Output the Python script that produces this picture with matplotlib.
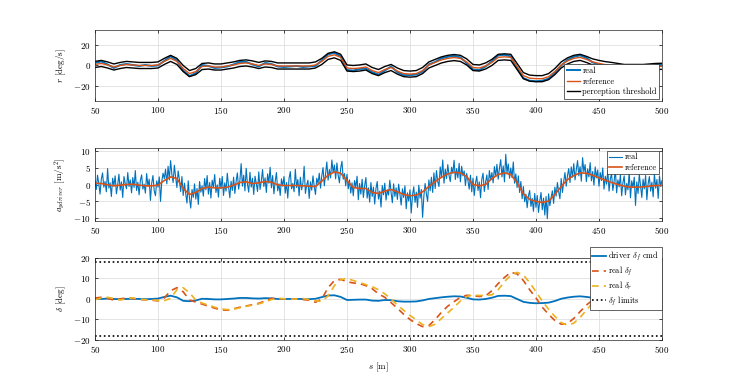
import numpy as np
import matplotlib
matplotlib.use("Agg")
import matplotlib.pyplot as plt

plt.rcParams['font.family'] = 'serif'
plt.rcParams['font.serif'] = ['cmr10']
plt.rcParams['mathtext.fontset'] = 'cm'
plt.rcParams['axes.formatter.use_mathtext'] = True
plt.rcParams['axes.unicode_minus'] = True

# ---- data ----
s5 = np.arange(50, 501, 5)   # coarse distance grid [m]
s1 = np.arange(50, 501, 1)   # fine distance grid [m]

r_ref = [1.0, 2.0, 0.5, -1.5, 0.0, 1.0, 0.5, 0.0, 0.0, 0.0,
         0.5, 4.0, 7.0, 4.0, -3.0, -8.0, -6.0, -1.0, -0.5, -1.5,
         -1.5, -0.5, 0.5, 2.0, 2.5, 1.5, 0.0, 1.5, 1.0, -0.5,
         -0.5, -0.5, -0.5, -0.5, -0.5, 0.5, 4.0, 9.0, 10.5, 8.0,
         -2.5, -3.0, -2.5, -1.5, -5.0, -7.0, -4.0, -2.0, -5.5, -8.0,
         -8.5, -8.0, -5.0, 0.5, 3.0, 5.5, 7.0, 7.8, 7.0, 3.5,
         -2.0, -2.5, -0.5, 3.0, 8.0, 8.5, 8.0, -1.0, -10.0, -12.5,
         -13.0, -13.0, -11.0, -6.0, 0.5, 4.5, 7.0, 8.0, 6.0, 3.5,
         2.0, 0.8, 0.0, -1.0, -2.0, -2.0, -2.0, -2.0, -1.5, -1.0,
         -0.8]
r_real = [2.5, 4.0, 1.0, -2.5, 0.5, 1.5, 0.5, -0.5, 0.5, -0.5,
          0.0, 4.5, 9.0, 5.0, -5.0, -10.5, -7.5, 0.5, -0.5, -2.5,
          -2.0, -1.0, 1.0, 3.5, 3.5, 1.0, -1.0, 2.5, 1.5, -1.0,
          -1.5, -1.0, -0.5, -1.5, -1.0, -0.5, 5.0, 11.0, 12.5, 9.0,
          -4.5, -5.0, -3.5, -3.0, -6.5, -9.0, -5.0, -1.0, -6.5, -9.5,
          -9.5, -9.0, -6.0, 1.0, 3.5, 7.0, 8.5, 9.5, 8.0, 2.5,
          -4.0, -4.5, -1.0, 4.0, 10.0, 10.5, 9.0, -2.5, -12.5, -15.0,
          -15.5, -15.0, -13.0, -7.0, 0.0, 5.5, 8.5, 10.0, 7.5, 3.0,
          1.0, 0.0, -1.0, -2.0, -3.0, -3.5, -3.0, -2.5, -2.5, 0.5,
          0.5]
r_thresh = 3.0

ay_ref = [0.4, 0.3, -0.1, -0.4, -0.2, 0.0, 0.1, -0.2, -0.4, -0.4,
          -0.2, 1.2, 2.3, 1.8, -1.2, -3.0, -2.4, -1.2, -0.8, -1.0,
          -1.0, -0.8, -0.2, 0.6, 0.8, 0.3, 0.5, 0.9, 0.7, -0.1,
          -0.3, -0.3, -0.3, -0.4, -0.5, -0.6, 1.0, 2.8, 3.8, 3.4,
          1.2, -0.9, -1.2, -1.2, -2.4, -2.7, -2.0, -1.5, -2.2, -3.0,
          -3.4, -3.2, -2.2, -0.6, 0.9, 2.2, 3.2, 3.7, 3.5, 2.4,
          0.0, -0.4, 0.0, 1.8, 3.0, 3.5, 3.0, 0.5, -2.8, -4.5,
          -5.1, -5.4, -5.0, -3.0, -0.6, 1.5, 2.7, 3.5, 3.4, 2.8,
          2.0, 1.3, 0.6, 0.0, -0.5, -0.8, -0.8, -0.7, -0.5, -0.3,
          -0.3]
ay_real = [1.2, -1.5, 2.8, 0.3, -2.9, 1.6, 3.5, -0.8, 0.9, -2.2,
           4.8, -1.1, 0.5, -3.6, 1.9, -0.4, 2.6, -2.8, -0.2, 3.1,
           -1.7, 0.8, -3.9, 2.4, 0.2, -1.3, 3.6, -0.6, 1.4, -2.5,
           2.1, -0.9, 4.2, -1.8, 0.7, -3.1, 1.2, 2.9, -1.4, 0.1,
           -2.6, 3.3, -0.5, 1.6, -4.8, 0.4, 2.7, -1.9, -3.4, 1.1,
           -0.8, 2.3, -5.1, 0.9, 3.4, 1.8, 4.6, 0.2, 5.5, 1.4,
           7.2, 3.1, 0.6, 5.8, 2.2, -0.9, 4.1, 1.5, -2.1, 2.4,
           -3.3, 0.4, -2.8, -5.6, 1.1, -4.2, -7.1, -1.5, -3.9, 0.2,
           -4.4, -1.2, -6.0, 0.9, -2.3, -0.4, -3.5, 1.8, -1.6, 2.7,
           -2.9, 0.6, -4.1, 1.3, -0.7, 3.0, -2.4, -0.1, -3.8, 1.9,
           -1.2, 2.4, -3.3, 0.5, -2.0, 3.4, -0.6, -4.0, 1.0, -1.8,
           2.2, -2.7, 0.9, 3.5, -1.4, 1.2, 6.3, -0.5, 2.8, -1.9,
           4.9, 0.1, -2.3, 3.7, -0.8, 1.9, -3.0, 2.5, 0.3, -2.1,
           3.8, -1.5, 1.1, 4.5, -0.6, 2.0, -2.4, 3.2, 0.4, 5.2,
           -1.0, 2.7, -2.8, 0.9, 3.6, -1.9, 0.2, -3.3, 1.7, -0.5,
           2.4, -2.6, 0.6, -4.1, 1.8, 3.9, -1.3, 0.3, -2.2, 4.6,
           -0.9, 1.5, -3.4, 2.2, -1.6, 0.4, 5.5, -2.7, -0.2, 1.3,
           -4.2, 0.8, -1.7, 2.6, -0.5, -3.0, 1.9, 0.3, 3.4, -1.1,
           2.6, 5.1, -0.4, 3.2, 6.8, 1.3, 4.5, 2.0, 7.4, 3.6,
           5.9, 1.7, 6.5, 2.8, 0.5, 4.9, 7.0, 1.6, 3.3, -0.4,
           3.1, -1.3, 1.4, -2.6, 0.5, -3.4, 1.2, -0.8, 2.5, -4.6,
           0.3, -2.9, 1.6, -3.9, -0.4, 2.1, -4.1, -1.0, -5.3, 0.6,
           -3.6, -0.8, -5.9, -1.2, 0.9, -4.4, -2.0, -6.8, -0.3, -3.1,
           0.4, -4.7, -1.6, -3.2, 1.3, -2.4, -5.5, 0.2, -3.6, -1.0,
           -4.5, 0.1, -2.8, -6.2, -1.3, -3.9, -0.4, -7.3, -2.5, -5.0,
           -1.6, -8.6, -3.2, -0.7, -5.4, -2.3, -6.9, -0.2, -4.1, -1.5,
           -9.9, -3.6, 0.3, -2.8, -5.1, 1.4, -1.9, 2.2, -2.4, 3.5,
           -1.2, 4.2, 1.0, -0.6, 5.3, 2.1, 7.4, 0.4, 4.6, 1.8,
           6.0, 2.7, 0.9, 5.2, 3.4, 7.3, 1.5, 4.8, 2.0, 6.4,
           0.8, 5.5, 2.6, 4.1, -0.3, 3.3, 1.2, -1.4, 2.8, -2.2,
           1.9, -3.3, 0.4, 2.5, -1.8, 0.8, -4.0, 1.6, 3.4, -2.1,
           0.7, 2.9, -1.5, 4.2, 1.3, 3.6, 0.5, 5.4, 2.4, 6.1,
           1.6, 4.9, 7.5, 2.3, 5.6, 0.8, 9.1, 3.5, 6.2, 1.9,
           5.0, 2.1, 6.8, 0.4, 3.2, -0.9, 2.6, -2.4, 0.9, -4.3,
           -0.6, -5.2, -2.9, -7.0, -3.4, -1.8, -6.6, -4.2, -8.1, -2.7,
           -6.9, -3.3, -8.4, -5.0, -2.4, -7.6, -4.1, -9.2, -3.6, -10.3,
           -2.8, -6.4, -4.0, -1.9, -5.7, -0.8, -3.5, 0.6, -2.2, -4.3,
           1.8, -2.4, 0.9, 3.6, -0.5, 2.7, 4.8, 0.6, 5.3, 2.2,
           6.3, 1.4, 4.5, 7.2, 2.6, 5.4, 1.0, 8.1, 3.8, 6.0,
           0.9, 4.7, 2.3, 6.6, 1.1, 3.9, -0.2, 5.3, 2.0, 4.4,
           -0.5, 3.6, 1.2, 5.0, -1.4, 2.5, 0.1, 4.2, -2.0, 1.7,
           3.3, -1.8, 0.9, 4.6, -2.5, 1.4, -0.7, 2.9, -3.4, 0.5,
           2.6, -3.1, 0.3, -1.6, 3.8, -4.0, 1.1, -0.9, 2.2, -6.3,
           0.8, -2.7, 3.1, -0.4, -3.9, 1.6, -1.3, 2.7, -4.6, 0.2,
           2.4, -2.0, 0.7, -3.7, 3.2, -1.1, 1.5, -4.2, 2.6, -0.6,
           1.2]

df_cmd = [0.2, 0.0, 0.2, 0.0, -0.1, 0.0, 0.1, 0.0, -0.1, 0.0,
          0.2, 1.0, 1.6, 0.8, -0.9, -1.1, -0.7, 0.1, 0.0, -0.2,
          -0.2, 0.0, 0.2, 0.5, 0.5, 0.3, 0.2, 0.4, 0.3, 0.0,
          0.0, 0.0, 0.0, 0.0, -0.1, 0.1, 0.9, 1.7, 1.8, 1.0,
          -0.5, -0.4, -0.3, -0.3, -0.8, -0.9, -0.5, -0.6, -1.1, -1.3,
          -1.3, -1.2, -0.7, 0.0, 0.4, 0.8, 1.1, 1.3, 1.2, 0.6,
          -0.2, -0.3, 0.0, 0.6, 1.5, 1.6, 1.4, 0.0, -1.4, -1.9,
          -2.1, -2.0, -1.8, -1.0, 0.1, 0.7, 1.1, 1.3, 1.0, 0.6,
          0.3, 0.1, 0.0, -0.1, -0.2, -0.2, -0.2, -0.2, -0.1, 0.0,
          0.0]
df_real = [0.5, 0.8, 0.3, -0.6, 0.0, 0.6, 0.2, -0.3, -0.4, -0.6,
           -0.9, 0.5, 4.0, 5.5, 3.5, -0.5, -1.5, -2.5, -3.5, -4.5,
           -5.3, -5.5, -4.8, -4.0, -3.4, -2.8, -2.1, -1.0, 0.3, 0.2,
           0.0, -0.2, 0.1, -0.3, -0.6, -1.6, 0.0, 5.5, 9.0, 9.6,
           8.4, 7.8, 7.5, 6.5, 5.0, 2.5, 0.8, -1.8, -4.5, -7.5,
           -10.0, -12.0, -13.5, -13.0, -10.0, -6.5, -3.5, -1.3, 0.8, 1.8,
           1.6, 1.2, 1.5, 4.0, 7.5, 10.5, 13.0, 12.2, 9.0, 4.5,
           0.5, -4.0, -7.5, -10.5, -12.3, -12.0, -9.5, -6.2, -3.0, -0.5,
           1.0, 1.8, 2.3, 2.6, 2.8, 2.5, 1.1, -0.5, 0.0, 0.2,
           0.0]
dr_real = [-0.3, 0.4, 0.8, 0.2, -0.5, 0.1, 0.5, 0.0, -0.4, -0.5,
           -0.7, -0.8, 0.3, 4.5, 5.5, 3.0, -0.5, -2.0, -3.0, -4.0,
           -4.8, -5.2, -5.0, -4.3, -3.6, -3.0, -2.4, -1.5, -0.3, 0.3,
           0.1, -0.1, 0.0, 0.2, -0.3, -0.9, -1.2, 1.5, 6.5, 9.5,
           10.0, 9.0, 8.0, 7.0, 6.0, 4.5, 2.5, 0.0, -3.0, -5.5,
           -8.0, -10.2, -12.5, -13.5, -12.3, -9.5, -6.8, -4.0, -1.0, 1.2,
           2.0, 1.7, 1.8, 2.0, 4.5, 8.5, 11.5, 13.0, 11.7, 8.0,
           3.5, -1.0, -5.0, -8.5, -11.5, -12.8, -11.8, -9.0, -5.5, -1.8,
           0.8, 2.0, 2.5, 3.0, 3.3, 3.0, 2.4, 1.0, 0.3, 0.0,
           0.0]
df_limit = 18.0

# ---- styling ----
blue = '#0072BD'
orange = '#D95319'
yellow = '#EDB120'
fs = 6.5

fig = plt.figure(figsize=(7.33, 3.82), dpi=100)
ax1 = fig.add_axes([0.1296, 0.7356, 0.7735, 0.186])
ax2 = fig.add_axes([0.1296, 0.4215, 0.7735, 0.191])
ax3 = fig.add_axes([0.1296, 0.110, 0.7735, 0.2147])

def style(ax):
    ax.set_xlim(50, 500)
    ax.set_xticks(np.arange(50, 501, 50))
    ax.grid(True, color='0.85', linewidth=0.5)
    ax.set_axisbelow(True)
    ax.tick_params(direction='in', length=2, width=0.5, labelsize=fs,
                   top=True, right=True, pad=3)
    for sp in ax.spines.values():
        sp.set_linewidth(0.5)
        sp.set_color('0.15')

def leg(ax, **kw):
    l = ax.legend(fontsize=fs - 0.5, fancybox=False, framealpha=1,
                  edgecolor='0.15', handlelength=1.6, handletextpad=0.3,
                  borderpad=0.3, labelspacing=0.25, borderaxespad=0.3, **kw)
    l.get_frame().set_linewidth(0.5)
    return l

# top: yaw rate
ax1.plot(s5, r_real, color=blue, lw=1.4, label='real')
ax1.plot(s5, r_ref, color=orange, lw=1.0, label='reference')
ax1.plot(s5, np.array(r_ref) + r_thresh, color='k', lw=1.0, label='perception threshold')
ax1.plot(s5, np.array(r_ref) - r_thresh, color='k', lw=1.0)
ax1.set_ylim(-35, 35)
ax1.set_yticks([-20, 0, 20])
ax1.set_ylabel(r'$r$ [deg/s]', fontsize=fs)
style(ax1)
leg(ax1, loc='lower right')

# middle: lateral acceleration
ax2.plot(s1, ay_real, color=blue, lw=0.8, label='real')
ax2.plot(s5, ay_ref, color=orange, lw=1.2, label='reference')
ax2.set_ylim(-11, 11)
ax2.set_yticks([-10, -5, 0, 5, 10])
ax2.set_ylabel(r'$a_{y driver}$ [m/s$^2$]', fontsize=fs)
style(ax2)
leg(ax2, loc='upper right')

# bottom: steering
ax3.plot(s5, df_cmd, color=blue, lw=1.3, label=r'driver $\delta_f$ cmd')
ax3.plot(s5, df_real, color=orange, lw=1.2, ls=(0, (4, 3)), label=r'real $\delta_f$')
ax3.plot(s5, dr_real, color=yellow, lw=1.2, ls=(0, (4, 3)), label=r'real $\delta_r$')
ax3.plot([50, 500], [df_limit, df_limit], color='k', lw=1.2, ls=':', label=r'$\delta_f$ limits')
ax3.plot([50, 500], [-df_limit, -df_limit], color='k', lw=1.2, ls=':')
ax3.set_ylim(-20, 20)
ax3.set_yticks([-20, -10, 0, 10, 20])
ax3.set_ylabel(r'$\delta$ [deg]', fontsize=fs)
ax3.set_xlabel(r'$s$ [m]', fontsize=fs)
style(ax3)
leg(ax3, loc='upper right', bbox_to_anchor=(1.004, 1.16))

fig.align_ylabels([ax1, ax2, ax3])
fig.savefig('out.png', dpi=100)
